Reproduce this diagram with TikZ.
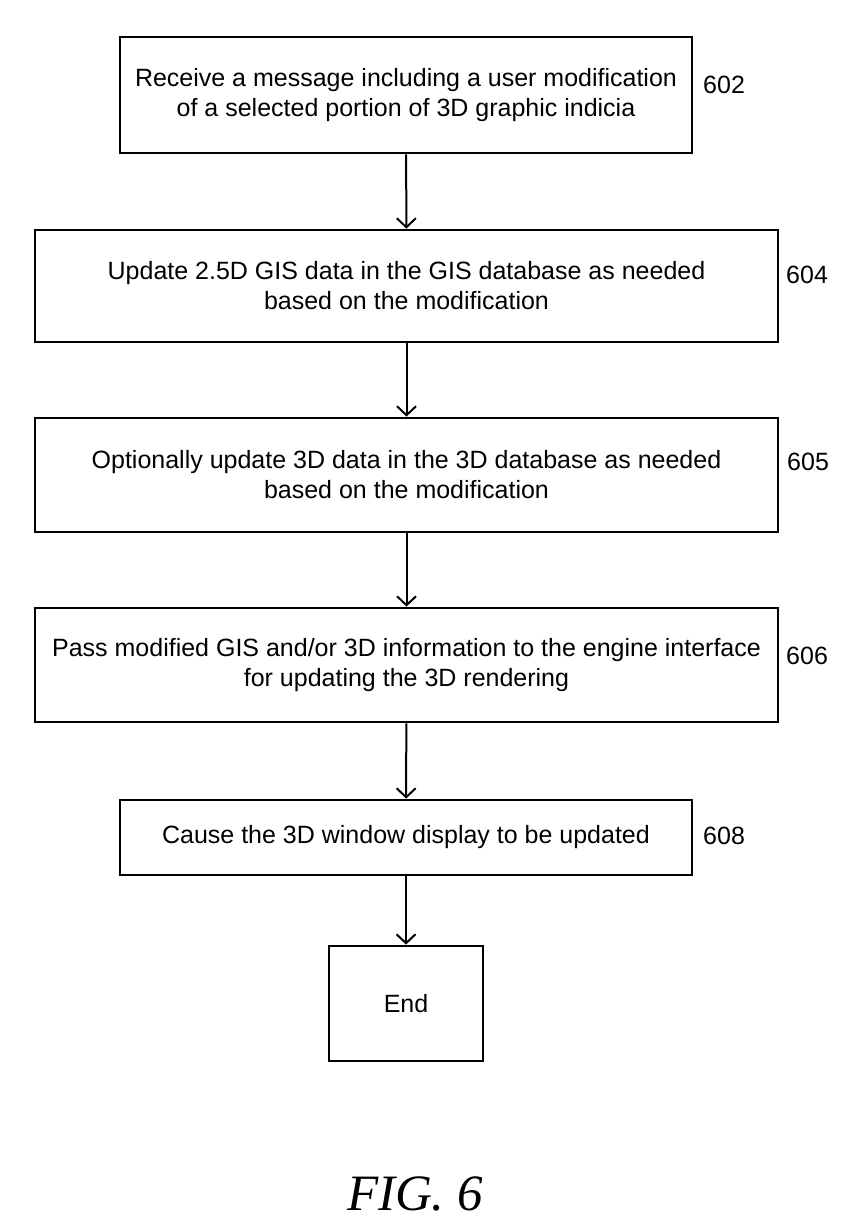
\documentclass[tikz,border=0pt]{standalone}
\usepackage{fontspec}
\setmainfont{Liberation Sans}
\newfontfamily\figfont{Liberation Serif}
\usetikzlibrary{arrows.meta}
\begin{document}
\begin{tikzpicture}[x=1pt,y=-1pt,
  stepbox/.style={draw,line width=2.8pt,align=center,inner sep=0pt,
    font=\fontsize{25}{30}\selectfont},
  reflabel/.style={anchor=west,inner sep=0pt,font=\fontsize{25}{30}\selectfont},
  >={Straight Barb[length=9pt,width=19pt]}]
\useasboundingbox (0,0) rectangle (862,1219);
\node[stepbox,minimum width=572pt,minimum height=116pt] (s602) at (406,95)
  {Receive a message including a user modification\\of a selected portion of 3D graphic indicia};
\node[stepbox,minimum width=743pt,minimum height=112pt] (s604) at (406.5,286)
  {Update 2.5D GIS data in the GIS database as needed\\based on the modification};
\node[stepbox,minimum width=743pt,minimum height=114pt] (s605) at (406.5,475)
  {Optionally update 3D data in the 3D database as needed\\based on the modification};
\node[stepbox,minimum width=743pt,minimum height=114pt] (s606) at (406.5,665)
  {Pass modified GIS and/or 3D information to the engine interface\\for updating the 3D rendering};
\node[stepbox,minimum width=572pt,minimum height=75pt] (s608) at (406,837.5)
  {Cause the 3D window display to be updated};
\node[stepbox,minimum width=154pt,minimum height=115pt] (end) at (406,1003.5) {End};
\node[reflabel] (l602) at (703,85) {602};
\node[reflabel] (l604) at (786,275) {604};
\node[reflabel] (l605) at (787,462) {605};
\node[reflabel] (l606) at (786,656) {606};
\node[reflabel] (l608) at (703,836) {608};
\foreach \a/\b in {s602/s604,s604/s605,s605/s606,s606/s608,s608/end}{
\draw[->,line width=2pt] (\a) -- (\b);};
\node[anchor=base,inner sep=0pt,font=\figfont\itshape\fontsize{51}{60}\selectfont] (fig) at (415,1210) {FIG. 6};
\end{tikzpicture}
\end{document}
